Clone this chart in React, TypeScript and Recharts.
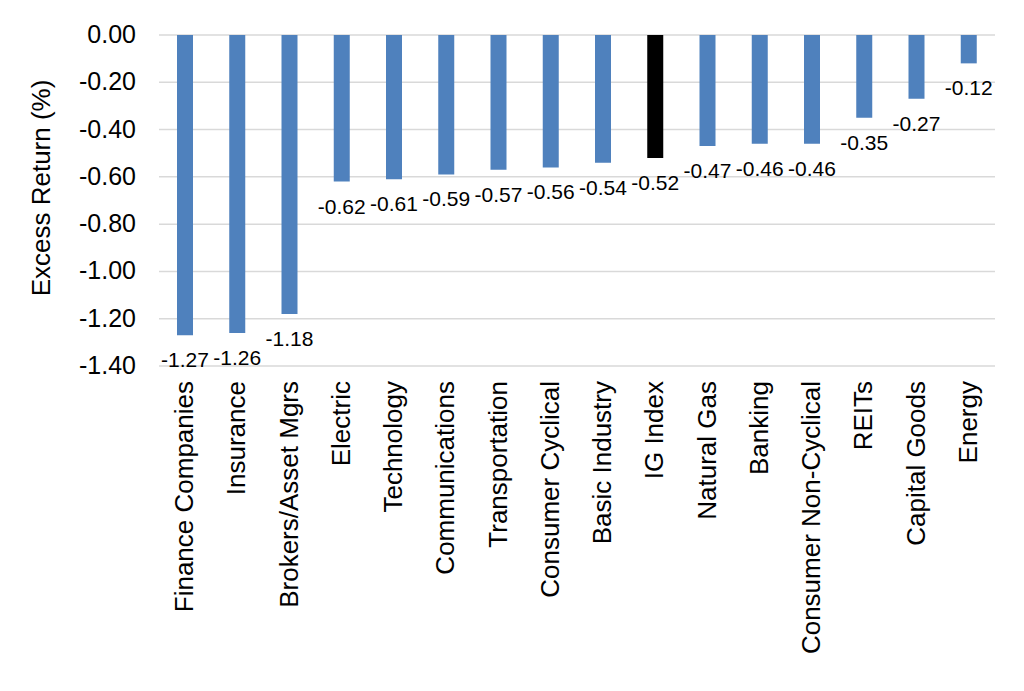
import { BarChart, Bar, XAxis, YAxis, CartesianGrid, Cell, LabelList, Label } from "recharts";

const categories = [
  "Finance Companies",
  "Insurance",
  "Brokers/Asset Mgrs",
  "Electric",
  "Technology",
  "Communications",
  "Transportation",
  "Consumer Cyclical",
  "Basic Industry",
  "IG Index",
  "Natural Gas",
  "Banking",
  "Consumer Non-Cyclical",
  "REITs",
  "Capital Goods",
  "Energy",
];

const excessReturn = [
  -1.27, -1.26, -1.18, -0.62, -0.61, -0.59, -0.57, -0.56, -0.54, -0.52, -0.47, -0.46, -0.46,
  -0.35, -0.27, -0.12,
];

const yTicks = [0, -0.2, -0.4, -0.6, -0.8, -1.0, -1.2, -1.4];

const BLUE = "#4f81bd";
const HIGHLIGHT = "IG Index";
const FONT = "'Liberation Sans', Arial, sans-serif";

const data = categories.map((name, i) => ({ name, value: excessReturn[i] }));

function XTick(props: any) {
  const { x, payload } = props;
  return (
    <text
      transform={`translate(${x + 8}, 381) rotate(-90)`}
      textAnchor="end"
      fontSize={26}
      fontFamily={FONT}
      fill="#000"
    >
      {payload.value}
    </text>
  );
}

function YTick(props: any) {
  const { y, payload } = props;
  return (
    <text x={136} y={y} dy={8} textAnchor="end" fontSize={25} fontFamily={FONT} fill="#000">
      {Number(payload.value).toFixed(2)}
    </text>
  );
}

function ValueLabel(props: any) {
  const { x, y, width, height, value } = props;
  const end = Math.max(y, y + height);
  return (
    <text
      x={x + width / 2}
      y={end + 25}
      dy={7}
      textAnchor="middle"
      fontSize={21}
      fontFamily={FONT}
      fill="#000"
    >
      {Number(value).toFixed(2)}
    </text>
  );
}

function AxisTitle() {
  return (
    <text
      transform="translate(50, 188) rotate(-90)"
      textAnchor="middle"
      fontSize={26}
      fontFamily={FONT}
      fill="#000"
    >
      Excess Return (%)
    </text>
  );
}

export default function App() {
  return (
    <div style={{ position: "absolute", left: 0, top: 0, width: 1024, height: 691, background: "#fff" }}>
      <BarChart
        width={1024}
        height={691}
        data={data}
        margin={{ top: 35, right: 29, bottom: 0, left: 0 }}
      >
        <CartesianGrid vertical={false} stroke="#d9d9d9" strokeWidth={1.5} />
        <XAxis
          dataKey="name"
          interval={0}
          height={325}
          axisLine={false}
          tickLine={false}
          tick={<XTick />}
        />
        <YAxis
          width={159}
          domain={[-1.4, 0]}
          ticks={yTicks}
          axisLine={false}
          tickLine={false}
          tick={<YTick />}
        >
          <Label content={<AxisTitle />} />
        </YAxis>
        <Bar dataKey="value" barSize={16} isAnimationActive={false}>
          {data.map((d) => (
            <Cell key={d.name} fill={d.name === HIGHLIGHT ? "#000000" : BLUE} />
          ))}
          <LabelList dataKey="value" content={<ValueLabel />} />
        </Bar>
      </BarChart>
    </div>
  );
}
